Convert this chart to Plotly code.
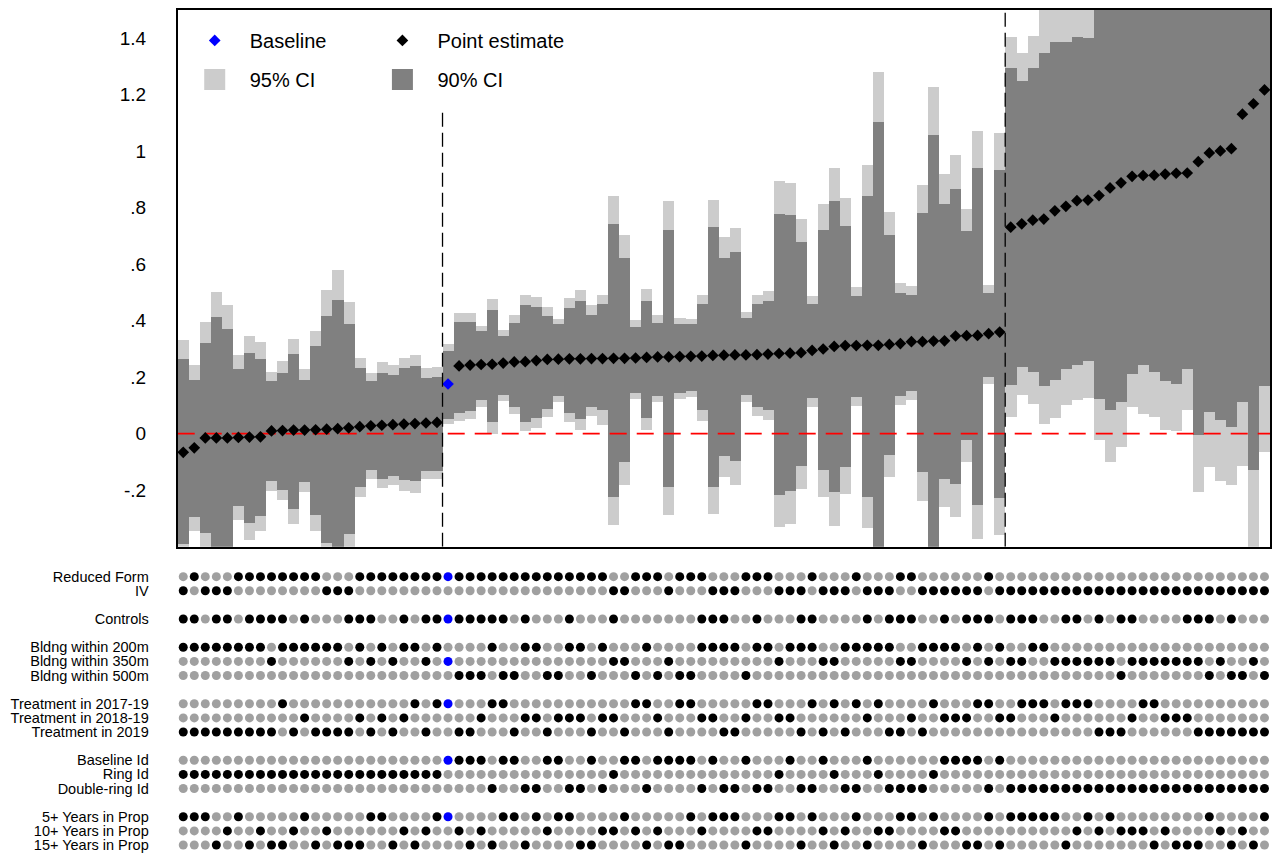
import plotly.graph_objects as go

FONT = "Liberation Sans, Arial, Helvetica, sans-serif"

# ---------------- data ----------------
spec = list(range(1, 100))
baseline_spec = 25
group_sizes = [24, 51, 24]

point = [
    -0.066, -0.050, -0.015, -0.015, -0.015, -0.013, -0.012, -0.011, 0.010, 0.011,
    0.013, 0.013, 0.014, 0.016, 0.018, 0.021, 0.025, 0.028, 0.030, 0.032,
    0.034, 0.036, 0.038, 0.040,
    0.176,
    0.240, 0.243, 0.245, 0.246, 0.250, 0.254, 0.255, 0.259, 0.263, 0.264,
    0.265, 0.265, 0.266, 0.266, 0.267, 0.267, 0.268, 0.270, 0.272, 0.272,
    0.273, 0.274, 0.275, 0.277, 0.278,
    0.279, 0.279, 0.280, 0.282, 0.284, 0.285, 0.287, 0.295, 0.300, 0.309,
    0.312, 0.312, 0.313, 0.313, 0.316, 0.319, 0.326, 0.326, 0.328, 0.329,
    0.346, 0.347, 0.348, 0.354, 0.360,
    0.731, 0.743, 0.756, 0.760, 0.789, 0.805, 0.825, 0.827, 0.843, 0.870,
    0.888, 0.911, 0.914, 0.915, 0.919, 0.922, 0.923, 0.963, 0.994, 1.001,
    1.009, 1.131, 1.168, 1.217,
]

hi95 = [
    0.333, 0.242, 0.397, 0.501, 0.454, 0.278, 0.347, 0.325, 0.219, 0.257,
    0.337, 0.228, 0.364, 0.508, 0.579, 0.466, 0.269, 0.216, 0.253, 0.242,
    0.269, 0.279, 0.232, 0.238,
    0.318,
    0.429, 0.429, 0.382, 0.478, 0.367, 0.420, 0.491, 0.483, 0.449, 0.406,
    0.480, 0.508, 0.454, 0.491, 0.843, 0.705, 0.401, 0.513, 0.421, 0.825,
    0.411, 0.406, 0.491, 0.829, 0.696,
    0.727, 0.432, 0.492, 0.506, 0.893, 0.886, 0.760, 0.488, 0.815, 0.939,
    0.833, 0.520, 0.953, 1.281, 0.784, 0.535, 0.523, 0.882, 1.228, 0.919,
    0.986, 0.794, 1.071, 0.525, 1.066,
    1.405, 1.349, 1.407, 1.52, 1.55, 1.55, 1.56, 1.56, 1.71, 1.84,
    1.82, 1.73, 1.76, 1.77, 1.83, 1.84, 1.76, 2.13, 2.11, 2.17,
    2.20, 2.38, 2.89, 2.50,
]

lo95 = [
    -0.46, -0.344, -0.43, -0.53, -0.48, -0.306, -0.375, -0.344, -0.202, -0.233,
    -0.320, -0.206, -0.344, -0.475, -0.545, -0.43, -0.224, -0.159, -0.193, -0.183,
    -0.202, -0.208, -0.161, -0.161,
    0.033,
    0.046, 0.052, 0.095, 0.000, 0.116, 0.071, 0.009, 0.021, 0.058, 0.114,
    0.040, 0.015, 0.064, 0.030, -0.322, -0.181, 0.124, 0.012, 0.114, -0.289,
    0.124, 0.129, 0.046, -0.283, -0.152,
    -0.183, 0.114, 0.062, 0.050, -0.330, -0.320, -0.196, 0.095, -0.223, -0.326,
    -0.214, 0.099, -0.332, -0.62, -0.152, 0.102, 0.120, -0.239, -0.58, -0.260,
    -0.295, -0.099, -0.372, 0.176, -0.359,
    0.058, 0.136, 0.105, 0.033, 0.055, 0.102, 0.120, 0.126, -0.022, -0.099,
    -0.047, 0.095, 0.071, 0.058, 0.012, 0.009, 0.083, -0.206, -0.119, -0.169,
    -0.181, -0.115, -0.55, -0.066,
]

hi90 = [
    0.263, 0.192, 0.321, 0.414, 0.372, 0.228, 0.287, 0.266, 0.185, 0.216,
    0.284, 0.192, 0.309, 0.418, 0.473, 0.390, 0.232, 0.186, 0.216, 0.207,
    0.232, 0.240, 0.198, 0.201,
    0.294,
    0.397, 0.397, 0.362, 0.439, 0.347, 0.393, 0.454, 0.449, 0.418, 0.387,
    0.446, 0.471, 0.421, 0.458, 0.743, 0.622, 0.379, 0.471, 0.393, 0.721,
    0.389, 0.387, 0.458, 0.731, 0.622,
    0.644, 0.409, 0.458, 0.471, 0.777, 0.774, 0.678, 0.458, 0.721, 0.823,
    0.736, 0.488, 0.840, 1.102, 0.704, 0.498, 0.491, 0.781, 1.058, 0.815,
    0.865, 0.719, 0.942, 0.498, 0.932,
    1.294, 1.247, 1.294, 1.349, 1.388, 1.388, 1.406, 1.402, 1.56, 1.66,
    1.66, 1.61, 1.58, 1.61, 1.65, 1.67, 1.62, 1.93, 1.91, 1.95,
    1.99, 2.15, 2.46, 2.26,
]

lo90 = [
    -0.39, -0.294, -0.353, -0.446, -0.404, -0.256, -0.315, -0.292, -0.167, -0.198,
    -0.268, -0.171, -0.286, -0.388, -0.439, -0.354, -0.187, -0.128, -0.159, -0.149,
    -0.165, -0.169, -0.131, -0.131,
    0.052,
    0.074, 0.079, 0.118, 0.040, 0.136, 0.095, 0.043, 0.055, 0.089, 0.133,
    0.073, 0.052, 0.095, 0.083, -0.223, -0.099, 0.143, 0.055, 0.133, -0.190,
    0.145, 0.151, 0.083, -0.190, -0.078,
    -0.097, 0.136, 0.095, 0.083, -0.218, -0.202, -0.115, 0.126, -0.128, -0.206,
    -0.119, 0.129, -0.223, -0.48, -0.074, 0.133, 0.151, -0.134, -0.42, -0.159,
    -0.177, -0.022, -0.252, 0.201, -0.227,
    0.172, 0.238, 0.219, 0.170, 0.191, 0.228, 0.244, 0.257, 0.123, 0.083,
    0.114, 0.213, 0.244, 0.219, 0.185, 0.176, 0.228, -0.006, 0.077, 0.050,
    0.025, 0.114, -0.127, 0.170,
]

# specification indicators (1 = reduced form, 0 = IV)
reduced_form = (
    [0, 1, 0, 0, 0, 1, 1, 1, 1, 1, 1, 1, 1, 0, 0, 0, 1, 1, 1, 1, 1, 1, 1, 1, 1]
    + [1, 1, 1, 1, 1, 1, 1, 1, 1, 1, 1, 1, 1, 1, 0, 0, 1, 1, 1, 0, 1, 1, 1, 0, 0]
    + [0, 1, 1, 1, 0, 0, 0, 1, 0, 0, 0, 1, 0, 0, 0, 1, 1, 0, 0, 0, 0, 0, 0, 1, 0]
    + [0] * 24
)
controls = (
    [1, 1, 0, 1, 1, 0, 1, 1, 1, 1, 0, 1, 0, 0, 0, 1, 1, 1, 0, 0, 1, 0, 1, 1, 1]
    + [1, 1, 1, 1, 1, 0, 1, 0, 0, 0, 1, 0, 0, 0, 1, 0, 0, 0, 0, 0, 0, 0, 1, 1, 1]
    + [0, 0, 1, 0, 0, 0, 1, 1, 0, 0, 0, 0, 1, 0, 1, 1, 1, 0, 0, 1, 0, 1, 1, 1, 0]
    + [1, 1, 1, 0, 0, 1, 1, 0, 1, 0, 1, 1, 0, 0, 0, 0, 1, 1, 1, 0, 1, 0, 0, 0]
)
bldg_radius = (
    [200, 200, 200, 200, 200, 200, 200, 200, 350, 200, 200, 200, 200, 200, 200, 350,
     200, 350, 200, 350, 200, 200, 350, 200, 350]
    + [500, 500, 500, 200, 500, 500, 200, 200, 500, 500, 200, 200, 500, 200, 350, 350,
       500, 200, 500, 350, 500, 500, 200, 200, 200]
    + [200, 500, 200, 200, 350, 200, 200, 200, 350, 350, 200, 200, 200, 200, 200, 350,
       350, 200, 200, 200, 200, 350, 200, 350, 200]
    + [350, 350, 200, 200, 350, 350, 350, 350, 350, 350, 500, 350, 350, 350, 350, 350,
       350, 350, 500, 350, 500, 500, 350, 500]
)
treat_period = (
    ["2019"] * 9
    + ["2017-19", "2019", "2018-19", "2019", "2019", "2019", "2019", "2018-19", "2019",
       "2018-19", "2019", "2018-19", "2017-19", "2019", "2017-19", "2017-19"]
    + ["2019", "2019", "2018-19", "2017-19", "2017-19", "2019", "2018-19", "2018-19",
       "2019", "2018-19", "2018-19", "2018-19", "2019", "2018-19", "2018-19", "2019",
       "2017-19", "2017-19", "2018-19", "2019", "2017-19", "2017-19", "2018-19",
       "2018-19", "2019"]
    + ["2019", "2018-19", "2017-19", "2017-19", "2018-19", "2018-19", "2019", "2017-19",
       "2019", "2017-19", "2019", "2017-19", "2018-19", "2017-19", "2019", "2019",
       "2018-19", "2019", "2017-19", "2018-19", "2018-19", "2018-19", "2017-19",
       "2017-19", "2018-19"]
    + ["2018-19", "2017-19", "2017-19", "2017-19", "2018-19", "2017-19", "2017-19",
       "2017-19", "2019", "2019", "2019", "2018-19", "2017-19", "2017-19", "2018-19",
       "2018-19", "2018-19", "2019", "2019", "2019", "2019", "2019", "2019", "2019"]
)
id_type = (
    ["Ring"] * 24 + ["Baseline"]
    + ["Baseline", "Baseline", "Baseline", "Double", "Baseline", "Baseline", "Double",
       "Double", "Baseline", "Baseline", "Double", "Double", "Baseline", "Double",
       "Ring", "Baseline", "Baseline", "Double", "Baseline", "Baseline", "Baseline",
       "Baseline", "Double", "Baseline", "Double"]
    + ["Double", "Baseline", "Double", "Double", "Ring", "Baseline", "Double", "Double",
       "Baseline", "Ring", "Double", "Double", "Baseline", "Ring", "Double", "Double",
       "Double", "Double", "Ring", "Baseline", "Baseline", "Baseline", "Baseline",
       "Double", "Baseline"]
    + ["Double"] * 24
)
years_prop = (
    [5, 5, 5, 15, 10, 5, 15, 10, 15, 15, 10, 5, 15, 10, 15, 15, 15, 5, 5, 15, 10, 15, 10, 5, 5]
    + [10, 15, 10, 15, 5, 5, 15, 5, 10, 5, 5, 15, 15, 10, 10, 5, 10, 15, 10, 15, 15, 5, 10, 5, 5]
    + [5, 15, 10, 10, 5, 5, 15, 5, 10, 15, 10, 5, 15, 10, 10, 5, 5, 15, 5, 10, 10, 15, 15, 5, 15]
    + [5, 5, 5, 5, 5, 15, 10, 5, 10, 5, 10, 10, 10, 15, 10, 15, 15, 15, 5, 10, 15, 10, 15, 5]
)

ytick_vals = [-0.2, 0, 0.2, 0.4, 0.6, 0.8, 1.0, 1.2, 1.4]
ytick_text = ["-.2", "0", ".2", ".4", ".6", ".8", "1", "1.2", "1.4"]

row_labels = [
    "Reduced Form", "IV", "Controls",
    "Bldng within 200m", "Bldng within 350m", "Bldng within 500m",
    "Treatment in 2017-19", "Treatment in 2018-19", "Treatment in 2019",
    "Baseline Id", "Ring Id", "Double-ring Id",
    "5+ Years in Prop", "10+ Years in Prop", "15+ Years in Prop",
]

for arr in (point, hi95, lo95, hi90, lo90, reduced_form, controls, bldg_radius,
            treat_period, id_type, years_prop):
    assert len(arr) == len(spec), len(arr)

row_active = [
    [v == 1 for v in reduced_form],
    [v == 0 for v in reduced_form],
    [v == 1 for v in controls],
    [v == 200 for v in bldg_radius],
    [v == 350 for v in bldg_radius],
    [v == 500 for v in bldg_radius],
    [v == "2017-19" for v in treat_period],
    [v == "2018-19" for v in treat_period],
    [v == "2019" for v in treat_period],
    [v == "Baseline" for v in id_type],
    [v == "Ring" for v in id_type],
    [v == "Double" for v in id_type],
    [v == 5 for v in years_prop],
    [v == 10 for v in years_prop],
    [v == 15 for v in years_prop],
]
# vertical slot of each indicator row (blank slots separate the blocks)
row_slot = [0, 1, 3, 5, 6, 7, 9, 10, 11, 13, 14, 15, 17, 18, 19]

# ---------------- layout geometry (page pixels) ----------------
W, H = 1272, 856


def px_x(p):
    return p / W


def px_y(p):
    return 1 - p / H


LIGHT, DARK, DOTGRAY = "#cccccc", "#808080", "#a0a0a0"

fig = go.Figure()

fig.add_trace(go.Bar(
    x=spec, y=[h - l for h, l in zip(hi95, lo95)], base=lo95, width=1,
    marker=dict(color=LIGHT, line=dict(width=0)), name="95% CI",
    showlegend=False, hoverinfo="skip"))
fig.add_trace(go.Bar(
    x=spec, y=[h - l for h, l in zip(hi90, lo90)], base=lo90, width=1,
    marker=dict(color=DARK, line=dict(width=0)), name="90% CI",
    showlegend=False, hoverinfo="skip"))

# zero reference line (above bars, below markers)
x_lo, x_hi = spec[0] - 0.5, spec[-1] + 0.5
fig.add_trace(go.Scatter(
    x=[x_lo, x_hi], y=[0, 0], mode="lines",
    line=dict(color="#ff0000", width=1.8, dash="17px,10px"),
    showlegend=False, hoverinfo="skip"))

pe_x = [s for s in spec if s != baseline_spec]
pe_y = [p for s, p in zip(spec, point) if s != baseline_spec]
fig.add_trace(go.Scatter(
    x=[baseline_spec], y=[point[baseline_spec - 1]], mode="markers",
    marker=dict(symbol="diamond", size=9, color="#0000ff", line=dict(width=0)),
    name="Baseline", legend="legend", legendgroup="base"))
fig.add_trace(go.Scatter(
    x=pe_x, y=pe_y, mode="markers",
    marker=dict(symbol="diamond", size=9, color="black", line=dict(width=0)),
    name="Point estimate", legend="legend2", legendgroup="pe"))

# legend keys for the CI bands (square swatches)
fig.add_trace(go.Scatter(
    x=[None], y=[None], mode="markers", name="95% CI",
    marker=dict(symbol="square", size=16, color=LIGHT, line=dict(width=5, color=LIGHT)),
    legend="legend", legendgroup="ci95"))
fig.add_trace(go.Scatter(
    x=[None], y=[None], mode="markers", name="90% CI",
    marker=dict(symbol="square", size=16, color=DARK, line=dict(width=5, color=DARK)),
    legend="legend2", legendgroup="ci90"))

# indicator dots
for slot, active in zip(row_slot, row_active):
    colors = []
    for s, a in zip(spec, active):
        if a:
            colors.append("#0000ff" if s == baseline_spec else "#000000")
        else:
            colors.append(DOTGRAY)
    fig.add_trace(go.Scatter(
        x=spec, y=[slot] * len(spec), mode="markers", yaxis="y2",
        marker=dict(symbol="circle", size=9, color=colors, line=dict(width=0)),
        showlegend=False, hoverinfo="skip"))

# group separators
cum = 0
shapes = []
for i, g in enumerate(group_sizes[:-1]):
    cum += g
    xb = cum + 0.5
    shapes.append(dict(
        type="line", xref="x", yref="y", x0=xb, x1=xb,
        y0=-0.4, y1=1.5 if i > 0 else 1.15,
        line=dict(color="black", width=1.3, dash="14px,6px"), layer="above"))

left_px, top_px, bottom_px = 178, 9, 547
rows_top_px, rows_bot_px = 577, 846
row_step = (rows_bot_px - rows_top_px) / (row_slot[-1] - row_slot[0])
y2_top = rows_top_px - row_step / 2
y2_bot = rows_bot_px + row_step / 2

legend_common = dict(
    font=dict(family=FONT, size=20, color="black"), bgcolor="white",
    borderwidth=0, itemwidth=60, tracegroupgap=10, traceorder="grouped",
    xanchor="left", yanchor="top", orientation="v")

fig.update_layout(
    width=W, height=H, autosize=False, margin=dict(l=0, r=0, t=0, b=0),
    paper_bgcolor="white", plot_bgcolor="white",
    barmode="overlay", bargap=0, hovermode=False,
    font=dict(family=FONT, color="black"),
    xaxis=dict(domain=[px_x(left_px), 1.0], range=[x_lo, x_hi],
               showticklabels=False, ticks="", showgrid=False, zeroline=False,
               showline=True, linecolor="black", linewidth=1.5, mirror=True,
               anchor="y"),
    yaxis=dict(domain=[px_y(bottom_px), px_y(top_px)], range=[-0.4, 1.5],
               tickvals=ytick_vals, ticktext=ytick_text, ticks="",
               tickfont=dict(family=FONT, size=19, color="black"),
               ticklabelstandoff=26,
               showgrid=False, zeroline=False, showline=True, linecolor="black",
               linewidth=1.5, mirror=True, anchor="x"),
    yaxis2=dict(domain=[px_y(y2_bot), px_y(y2_top)],
                range=[row_slot[-1] + 0.5, row_slot[0] - 0.5],
                tickvals=row_slot, ticktext=row_labels, ticks="",
                tickfont=dict(family=FONT, size=14.5, color="black"),
                ticklabelstandoff=28,
                showgrid=False, zeroline=False, showline=False, anchor="x"),
    legend=dict(x=px_x(180), y=px_y(20), **legend_common),
    legend2=dict(x=px_x(368), y=px_y(20), **legend_common),
    shapes=shapes,
)

# the page itself should not add a margin around the 1272x856 figure
fig.write_html(
    "out.html",
    config={"responsive": False, "displayModeBar": False},
    post_script="document.body.style.margin='0px';document.body.style.padding='0px';",
)
